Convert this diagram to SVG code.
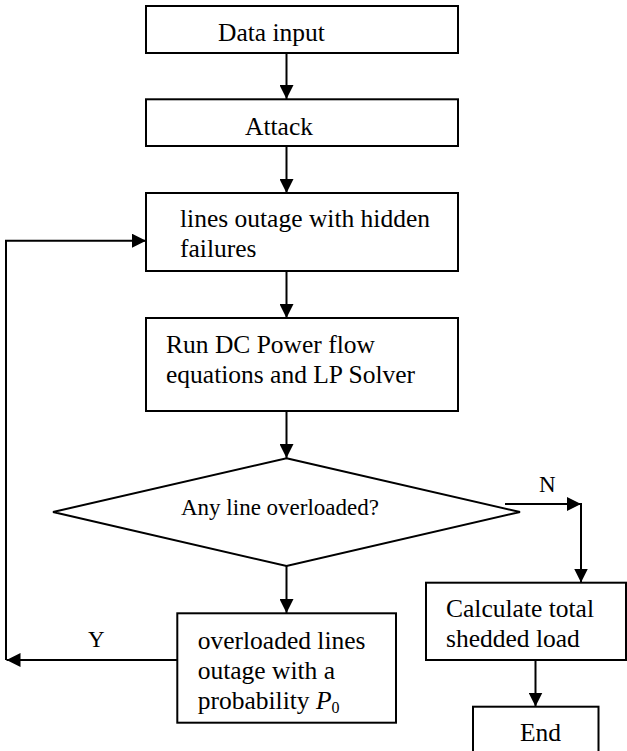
<svg xmlns="http://www.w3.org/2000/svg" width="627" height="751" viewBox="0 0 627 751">
<defs>
<marker id="ah" viewBox="0 0 14 14" refX="14" refY="7" markerWidth="14" markerHeight="14" markerUnits="userSpaceOnUse" orient="auto">
<path d="M0,0 L14,7 L0,14 Z" fill="#000"/>
</marker>
<style>
.box{fill:#fff;stroke:#000;stroke-width:2}
.t{font-family:"Liberation Serif","Times New Roman",serif;font-size:25.5px;fill:#000}
.s{font-size:23px}
.c{fill:none;stroke:#000;stroke-width:2}
</style>
</defs>
<rect width="627" height="751" fill="#fff"/>
<g id="connectors">
<line class="c" x1="286.5" y1="53" x2="286.5" y2="99" marker-end="url(#ah)"/>
<line class="c" x1="286.5" y1="146" x2="286.5" y2="193" marker-end="url(#ah)"/>
<line class="c" x1="286.5" y1="271" x2="286.5" y2="318" marker-end="url(#ah)"/>
<line class="c" x1="286.5" y1="411" x2="286.5" y2="458" marker-end="url(#ah)"/>
<line class="c" x1="286.5" y1="566" x2="286.5" y2="613" marker-end="url(#ah)"/>
<line class="c" x1="505" y1="504" x2="581" y2="504" marker-end="url(#ah)"/>
<line class="c" x1="581" y1="503" x2="581" y2="582.5" marker-end="url(#ah)"/>
<line class="c" x1="535.5" y1="660" x2="535.5" y2="706.5" marker-end="url(#ah)"/>
<line class="c" x1="177" y1="660" x2="6.5" y2="660" marker-end="url(#ah)"/>
<polyline class="c" points="6,660 6,240.7 146,240.7" marker-end="url(#ah)"/>
<text class="t s" x="539" y="491.7">N</text>
<text class="t s" x="88" y="647">Y</text>
</g>
<g id="data-input">
<rect class="box" x="146" y="6" width="312" height="47"/>
<text class="t" x="218" y="41">Data input</text>
</g>
<g id="attack">
<rect class="box" x="146" y="99.3" width="312" height="46.7"/>
<text class="t" x="245" y="134.5">Attack</text>
</g>
<g id="lines-outage">
<rect class="box" x="146" y="193" width="312" height="78"/>
<text class="t" x="180" y="227.3">lines outage with hidden</text>
<text class="t" x="180" y="257.3">failures</text>
</g>
<g id="run-dc">
<rect class="box" x="146" y="318" width="312" height="93"/>
<text class="t" x="166" y="353.3">Run DC Power flow</text>
<text class="t" x="166" y="382.7">equations and LP Solver</text>
</g>
<g id="decision">
<polygon class="box" points="286.5,458.3 520,512 286.5,566 53,512"/>
<text class="t s" x="181" y="515">Any line overloaded?</text>
</g>
<g id="overloaded">
<rect class="box" x="177.3" y="613.3" width="218.7" height="109.4"/>
<text class="t" x="197.7" y="649.3">overloaded lines</text>
<text class="t" x="197.7" y="679.3">outage with a</text>
<text class="t" x="197.7" y="709.3">probability <tspan font-style="italic">P</tspan><tspan font-size="16" dy="4">0</tspan></text>
</g>
<g id="calculate">
<rect class="box" x="426" y="582.7" width="200" height="77.3"/>
<text class="t" x="446" y="616.7">Calculate total</text>
<text class="t" x="446" y="646.7">shedded load</text>
</g>
<g id="end">
<rect class="box" x="473" y="706.7" width="125.5" height="50"/>
<text class="t" x="520" y="741">End</text>
</g>
</svg>
